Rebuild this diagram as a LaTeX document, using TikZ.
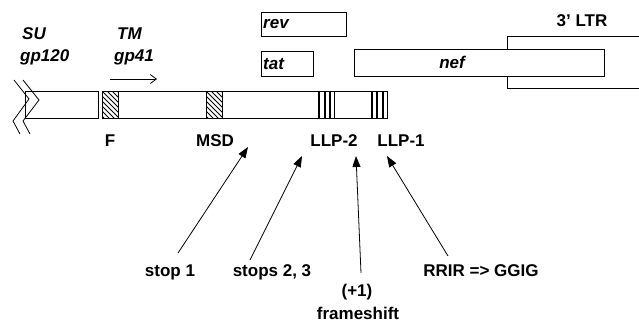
\documentclass[tikz,border=0pt]{standalone}
\usepackage{fontspec}
\setmainfont{Liberation Sans}
\usetikzlibrary{arrows.meta}
\begin{document}
\begin{tikzpicture}[x=1pt,y=-1pt,
  lab/.style={font=\bfseries\fontsize{17}{20}\selectfont, inner sep=0pt},
  gene/.style={font=\bfseries\itshape\fontsize{17}{20}\selectfont, inner sep=0pt},
  box/.style={draw, line width=1pt, fill=white},
  ptr/.style={line width=0.8pt, -{Triangle[length=11pt,width=8pt]}},
  hatch/.style={line width=0.8pt},
  mark1/.style={line width=2pt},
  mark2/.style={line width=0.9pt}]
\useasboundingbox (0,0) rectangle (639,322);

% protein labels
\node[gene, anchor=west] (su)  at (22,34) {SU};
\node[gene, anchor=west] (gp120) at (20,57) {gp120};
\node[gene, anchor=west] (tm)  at (117,34) {TM};
\node[gene, anchor=west] (gp41) at (114,57) {gp41};
\coordinate (tmA) at (110,79);
\coordinate (tmB) at (157,79);
\draw[line width=0.8pt, -{Straight Barb[length=6pt,width=9pt]}] (tmA) -- (tmB);

% accessory gene boxes
\node[box, anchor=north west, minimum width=85pt, minimum height=24pt] (rev) at (261,12) {};
\node[gene, anchor=west] at ([xshift=2pt]rev.west) {rev};
\node[box, anchor=north west, minimum width=52pt, minimum height=25pt] (tat) at (261,51) {};
\node[gene, anchor=west] at ([xshift=2pt]tat.west) {tat};

% 3' LTR, open to the right
\draw[line width=1pt] (645,36) -- (507,36) -- (507,88) -- (645,88);
\node[lab] (ltr) at (582,21) {3{\char"27} LTR};
\node[box, anchor=north west, minimum width=250pt, minimum height=27pt] (nef) at (354,49) {};
\node[gene] at (452,62) {nef};

% broken end of the env reading frame
\draw[line width=0.8pt] (14,80) -- (29,99) -- (13,121) -- (20,134);
\draw[line width=0.8pt] (23,80) -- (39,100) -- (23,121) -- (30,134);

% env bar
\draw[line width=1pt] (25,91) rectangle (98,118);
\draw[line width=1pt] (102,91) rectangle (387,118);
\draw[line width=1pt] (118,91) -- (118,118);
\draw[line width=1pt] (206,91) -- (206,118) (222,91) -- (222,118);
\begin{scope}
  \clip (102,91) rectangle (118,118);
  \foreach \k in {-40,-35,...,30} \draw[hatch] (102+\k,91) -- (102+\k+27,118);
\end{scope}
\begin{scope}
  \clip (206,91) rectangle (222,118);
  \foreach \k in {-40,-35,...,30} \draw[hatch] (206+\k,91) -- (206+\k+27,118);
\end{scope}
\foreach \xx in {319,324.5,330,372,377,382.5} \draw[mark1] (\xx,91) -- (\xx,118);
\draw[mark2] (334.5,91) -- (334.5,118);

% domain labels
\node[lab] (f)    at (110,141) {F};
\node[lab] (msd)  at (215,141) {MSD};
\node[lab] (llp2) at (334,141) {LLP-2};
\node[lab] (llp1) at (401,141) {LLP-1};

% mutations
\node[lab] (stop1)  at (170,272) {stop 1};
\node[lab] (stops)  at (272,272) {stops 2, 3};
\node[lab] (plus1)  at (357,292) {(+1)};
\node[lab] (fshift) at (358,313) {frameshift};
\node[lab] (rrir)   at (481,271) {RRIR => GGIG};

\coordinate (t1) at (178,253);  \coordinate (h1) at (248,147);
\coordinate (t2) at (250,260);  \coordinate (h2) at (302,156);
\coordinate (t3) at (361,273);  \coordinate (h3) at (356,156);
\coordinate (t4) at (448,256);  \coordinate (h4) at (387,156);
\draw[ptr] (t1) -- (h1);
\draw[ptr] (t2) -- (h2);
\draw[ptr] (t3) -- (h3);
\draw[ptr] (t4) -- (h4);
\end{tikzpicture}
\end{document}
